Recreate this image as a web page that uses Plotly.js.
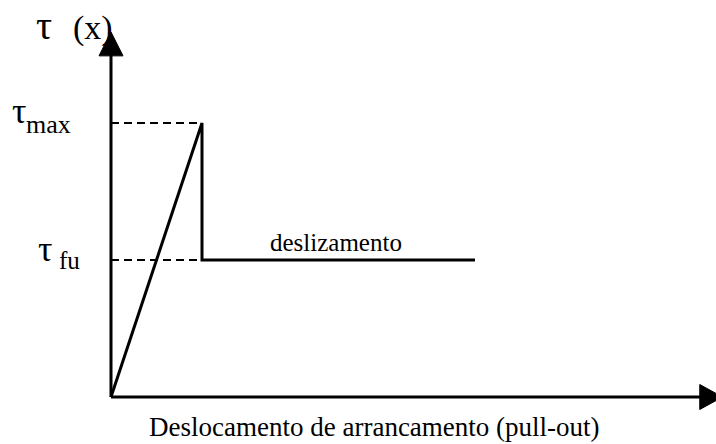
<!DOCTYPE html>
<html lang="en">
<head>
    <meta charset="UTF-8">
    <title>Tensão de aderência x deslocamento</title>
    <script src="https://cdn.plot.ly/plotly-3.0.1.min.js"></script>
    <style>
        body { margin: 0; padding: 0; background: white; }
        #plot { width: 716px; height: 444px; }
    </style>
</head>
<body>
    <div id="plot"></div>
    <script>
        // bond-slip law (normalised): linear rise to tau_max, drop to tau_fu, then sliding
        const slip = [0, 1, 1, 4];
        const tau = [0, 1, 0.5, 0.5];
        const tauMax = 1;
        const tauFu = 0.5;
        const slipPeak = 1;

        const xLabel = 'Deslocamento de arrancamento (pull-out)';
        const slideLabel = 'deslizamento';

        const serif = 'Liberation Serif';

        // axis extents (data units)
        const xEnd = 6.72;
        const yEnd = 1.332;

        const curve = {
            x: slip, y: tau, type: 'scatter', mode: 'lines',
            line: {color: '#000', width: 3}, hoverinfo: 'skip'
        };

        const ax = 91;     // px per x unit
        const ay = 274;    // px per y unit

        const shapes = [
            // axes
            {type: 'line', x0: 0, x1: 6.48, y0: 0, y1: 0, line: {color: '#000', width: 3}},
            {type: 'line', x0: 0, x1: 0, y0: 0, y1: 1.25, line: {color: '#000', width: 3}},
            // arrow heads
            {type: 'path', path: `M ${6.47} ${-12.5 / ay} L ${xEnd} 0 L ${6.47} ${12.5 / ay} Z`,
                fillcolor: '#000', line: {color: '#000', width: 1}},
            {type: 'path', path: `M ${-12 / ax} ${1.245} L 0 ${yEnd} L ${12 / ax} ${1.245} Z`,
                fillcolor: '#000', line: {color: '#000', width: 1}},
            // dashed guides
            {type: 'line', x0: 0, x1: slipPeak, y0: tauMax, y1: tauMax, line: {color: '#000', width: 2, dash: '8px,5px'}},
            {type: 'line', x0: 0, x1: slipPeak, y0: tauFu, y1: tauFu, line: {color: '#000', width: 2, dash: '8px,5px'}}
        ];

        function note(text, x, y, size) {
            return {
                text: text, x: x, y: y, xref: 'x', yref: 'y',
                showarrow: false, xanchor: 'center', yanchor: 'middle',
                font: {family: serif, size: size, color: '#000'}
            };
        }

        const annotations = [
            note('τ', -0.74, 1.355, 40),
            note('(x)', -0.2, 1.347, 34),
            note('τ', -1.015, tauMax + 0.045, 36),
            note('max', -0.685, tauMax - 0.005, 26),
            note('τ', -0.73, tauFu + 0.04, 36),
            note('fu', -0.46, tauFu + 0.0, 25),
            note(slideLabel, 2.47, tauFu + 0.065, 25),
            note(xLabel, 2.9, -0.11, 27)
        ];

        const layout = {
            width: 716, height: 444,
            margin: {l: 0, r: 0, t: 0, b: 0},
            paper_bgcolor: 'white', plot_bgcolor: 'white',
            showlegend: false,
            font: {family: serif},
            xaxis: {range: [-111 / ax, 605 / ax], visible: false, fixedrange: true},
            yaxis: {range: [-47 / ay, 397 / ay], visible: false, fixedrange: true},
            shapes: shapes,
            annotations: annotations
        };

        Plotly.newPlot('plot', [curve], layout, {displayModeBar: false, staticPlot: true});
    </script>
</body>
</html>
